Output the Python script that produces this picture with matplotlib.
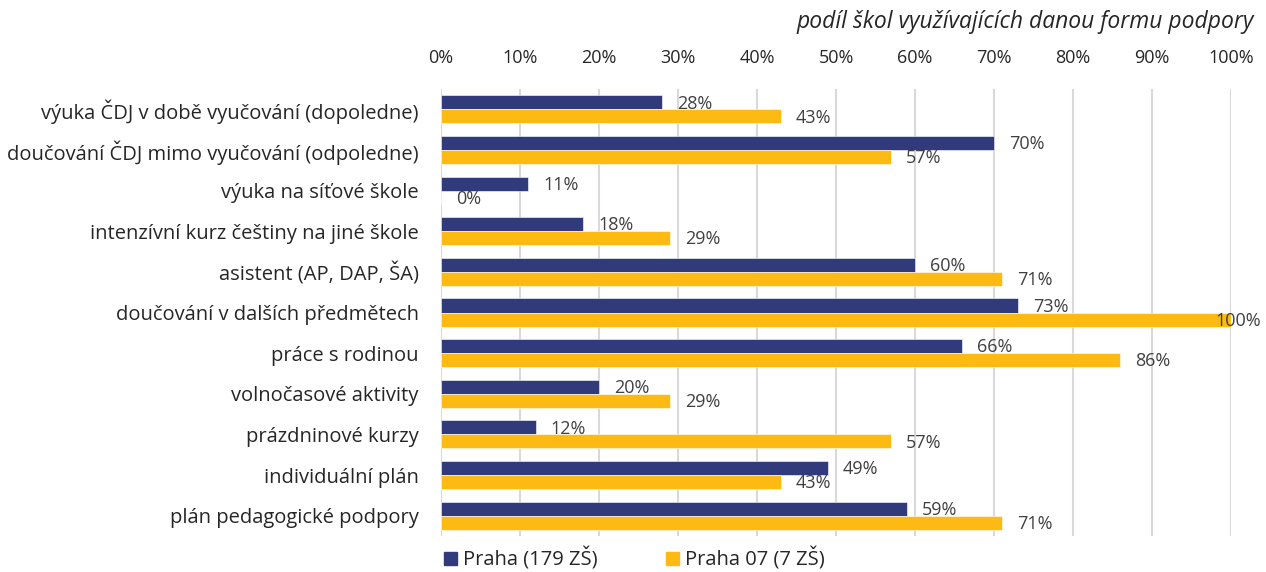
import numpy as np
import matplotlib.pyplot as plt
from matplotlib.patches import Patch

plt.rcParams['font.family'] = ['Open Sans', 'DejaVu Sans']

categories = [
    "výuka ČDJ v době vyučování (dopoledne)",
    "doučování ČDJ mimo vyučování (odpoledne)",
    "výuka na síťové škole",
    "intenzívní kurz češtiny na jiné škole",
    "asistent (AP, DAP, ŠA)",
    "doučování v dalších předmětech",
    "práce s rodinou",
    "volnočasové aktivity",
    "prázdninové kurzy",
    "individuální plán",
    "plán pedagogické podpory",
]
praha = [28, 70, 11, 18, 60, 73, 66, 20, 12, 49, 59]
praha07 = [43, 57, 0, 29, 71, 100, 86, 29, 57, 43, 71]
series_names = ["Praha (179 ZŠ)", "Praha 07 (7 ZŠ)"]
colors = ["#313A7B", "#FDBA12"]

fig = plt.figure(figsize=(12.66, 5.72), dpi=100)
ax = fig.add_axes([441 / 1266, 1 - 536 / 572, 790 / 1266, 447 / 572])

y = np.arange(len(categories))
h = 0.345
ax.barh(y - h / 2, praha, height=h, color=colors[0], edgecolor="white", linewidth=0.4, zorder=3)
ax.barh(y + h / 2, praha07, height=h, color=colors[1], edgecolor="white", linewidth=0.4, zorder=3)

# popisky hodnot (100 % se nevejde, posunout dovnitř jako v Excelu)
for vals, off in [(praha, -h / 2), (praha07, h / 2)]:
    for yi, v in zip(y, vals):
        x = min(v + 1.9, 98.0)
        ax.text(x, yi + off + 0.03, f"{v}%", va="center", ha="left",
                fontsize=13, color="#404040", zorder=4)

ax.set_xlim(0, 100)
ax.set_ylim(len(categories) - 0.5, -0.5)
ax.set_xticks(np.arange(0, 101, 10))
ax.set_xticklabels([f"{t}%" for t in range(0, 101, 10)], fontsize=13, color="#262626")
ax.xaxis.tick_top()
ax.tick_params(axis="x", length=0, pad=16)
ax.set_yticks(y)
ax.set_yticklabels(categories, fontsize=14.5, color="#262626")
ax.tick_params(axis="y", length=0, pad=16)
ax.grid(axis="x", color="#D9D9D9", linewidth=1.5, zorder=0)
for s in ax.spines.values():
    s.set_visible(False)

fig.text(1254 / 1266, 1 - 22 / 572, "podíl škol využívajících danou formu podpory",
         ha="right", va="center", fontsize=16.5, style="italic", color="#262626")

handles = [Patch(color=c) for c in colors]
fig.legend(handles, series_names, loc="center left", bbox_to_anchor=(426 / 1266, 1 - 559 / 572),
           ncol=2, frameon=False, fontsize=14.5, handlelength=0.65, handleheight=0.65,
           handletextpad=0.3, columnspacing=3.4, labelcolor="#262626")

fig.savefig("out.png", dpi=100)
